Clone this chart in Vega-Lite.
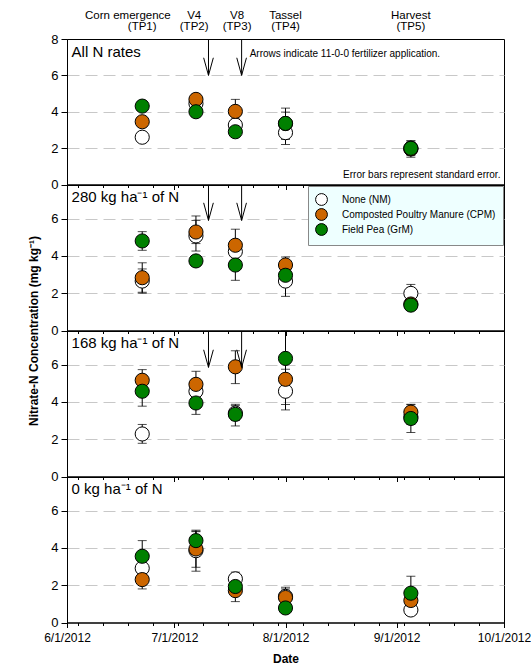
{
"$schema": "https://vega.github.io/schema/vega-lite/v6.json",
"background": "white",
"padding": {"left": 27, "top": 9, "right": 0, "bottom": 3},
"config": {"font": "Liberation Sans", "view": {"stroke": "black", "strokeWidth": 1}, "axis": {"labelFont": "Liberation Sans", "titleFont": "Liberation Sans", "titleColor": "black", "labelColor": "black"}},
"datasets": {
"pts": [
{"panel":1,"trt":"None (NM)","date":"2012-06-22T00:00:00","y":2.6,"lo":2.35,"hi":2.85},
{"panel":1,"trt":"Composted Poultry Manure (CPM)","date":"2012-06-22T00:00:00","y":3.45,"lo":3.2,"hi":3.7},
{"panel":1,"trt":"Field Pea (GrM)","date":"2012-06-22T00:00:00","y":4.31,"lo":4.05,"hi":4.55},
{"panel":1,"trt":"None (NM)","date":"2012-07-07T00:00:00","y":4.45,"lo":4.2,"hi":4.7},
{"panel":1,"trt":"Composted Poultry Manure (CPM)","date":"2012-07-07T00:00:00","y":4.68,"lo":4.4,"hi":4.95},
{"panel":1,"trt":"Field Pea (GrM)","date":"2012-07-07T00:00:00","y":4.0,"lo":3.8,"hi":4.2},
{"panel":1,"trt":"None (NM)","date":"2012-07-18T00:00:00","y":3.27,"lo":2.95,"hi":3.6},
{"panel":1,"trt":"Composted Poultry Manure (CPM)","date":"2012-07-18T00:00:00","y":4.02,"lo":3.4,"hi":4.68},
{"panel":1,"trt":"Field Pea (GrM)","date":"2012-07-18T00:00:00","y":2.9,"lo":2.65,"hi":3.15},
{"panel":1,"trt":"None (NM)","date":"2012-08-01T00:00:00","y":2.85,"lo":2.2,"hi":3.5},
{"panel":1,"trt":"Composted Poultry Manure (CPM)","date":"2012-08-01T00:00:00","y":3.35,"lo":2.75,"hi":3.98},
{"panel":1,"trt":"Field Pea (GrM)","date":"2012-08-01T00:00:00","y":3.36,"lo":2.48,"hi":4.2},
{"panel":1,"trt":"None (NM)","date":"2012-09-05T00:00:00","y":2.0,"lo":1.6,"hi":2.4},
{"panel":1,"trt":"Composted Poultry Manure (CPM)","date":"2012-09-05T00:00:00","y":1.95,"lo":1.5,"hi":2.4},
{"panel":1,"trt":"Field Pea (GrM)","date":"2012-09-05T00:00:00","y":1.99,"lo":1.7,"hi":2.3},
{"panel":2,"trt":"None (NM)","date":"2012-06-22T00:00:00","y":2.65,"lo":2.0,"hi":3.3},
{"panel":2,"trt":"Composted Poultry Manure (CPM)","date":"2012-06-22T00:00:00","y":2.83,"lo":2.05,"hi":3.63},
{"panel":2,"trt":"Field Pea (GrM)","date":"2012-06-22T00:00:00","y":4.8,"lo":4.3,"hi":5.3},
{"panel":2,"trt":"None (NM)","date":"2012-07-07T00:00:00","y":5.07,"lo":4.26,"hi":5.9},
{"panel":2,"trt":"Composted Poultry Manure (CPM)","date":"2012-07-07T00:00:00","y":5.28,"lo":4.66,"hi":6.14},
{"panel":2,"trt":"Field Pea (GrM)","date":"2012-07-07T00:00:00","y":3.73,"lo":3.55,"hi":3.9},
{"panel":2,"trt":"None (NM)","date":"2012-07-18T00:00:00","y":4.23,"lo":3.8,"hi":4.65},
{"panel":2,"trt":"Composted Poultry Manure (CPM)","date":"2012-07-18T00:00:00","y":4.57,"lo":3.7,"hi":5.43},
{"panel":2,"trt":"Field Pea (GrM)","date":"2012-07-18T00:00:00","y":3.51,"lo":2.69,"hi":4.3},
{"panel":2,"trt":"None (NM)","date":"2012-08-01T00:00:00","y":2.65,"lo":1.83,"hi":3.45},
{"panel":2,"trt":"Composted Poultry Manure (CPM)","date":"2012-08-01T00:00:00","y":3.51,"lo":3.1,"hi":3.94},
{"panel":2,"trt":"Field Pea (GrM)","date":"2012-08-01T00:00:00","y":2.96,"lo":2.6,"hi":3.3},
{"panel":2,"trt":"None (NM)","date":"2012-09-05T00:00:00","y":1.99,"lo":1.5,"hi":2.47},
{"panel":2,"trt":"Composted Poultry Manure (CPM)","date":"2012-09-05T00:00:00","y":1.42,"lo":1.25,"hi":1.6},
{"panel":2,"trt":"Field Pea (GrM)","date":"2012-09-05T00:00:00","y":1.36,"lo":1.2,"hi":1.5},
{"panel":3,"trt":"None (NM)","date":"2012-06-22T00:00:00","y":2.28,"lo":1.78,"hi":2.79},
{"panel":3,"trt":"Composted Poultry Manure (CPM)","date":"2012-06-22T00:00:00","y":5.16,"lo":4.6,"hi":5.73},
{"panel":3,"trt":"Field Pea (GrM)","date":"2012-06-22T00:00:00","y":4.57,"lo":3.77,"hi":5.35},
{"panel":3,"trt":"None (NM)","date":"2012-07-07T00:00:00","y":4.57,"lo":4.0,"hi":5.1},
{"panel":3,"trt":"Composted Poultry Manure (CPM)","date":"2012-07-07T00:00:00","y":4.94,"lo":4.3,"hi":5.64},
{"panel":3,"trt":"Field Pea (GrM)","date":"2012-07-07T00:00:00","y":3.94,"lo":3.33,"hi":4.55},
{"panel":3,"trt":"None (NM)","date":"2012-07-18T00:00:00","y":3.4,"lo":3.0,"hi":3.8},
{"panel":3,"trt":"Composted Poultry Manure (CPM)","date":"2012-07-18T00:00:00","y":5.88,"lo":4.98,"hi":6.74},
{"panel":3,"trt":"Field Pea (GrM)","date":"2012-07-18T00:00:00","y":3.33,"lo":2.71,"hi":3.87},
{"panel":3,"trt":"None (NM)","date":"2012-08-01T00:00:00","y":4.57,"lo":3.57,"hi":5.0},
{"panel":3,"trt":"Composted Poultry Manure (CPM)","date":"2012-08-01T00:00:00","y":5.21,"lo":4.7,"hi":5.75},
{"panel":3,"trt":"Field Pea (GrM)","date":"2012-08-01T00:00:00","y":6.33,"lo":3.86,"hi":7.8},
{"panel":3,"trt":"None (NM)","date":"2012-09-05T00:00:00","y":3.2,"lo":2.8,"hi":3.6},
{"panel":3,"trt":"Composted Poultry Manure (CPM)","date":"2012-09-05T00:00:00","y":3.45,"lo":3.0,"hi":3.87},
{"panel":3,"trt":"Field Pea (GrM)","date":"2012-09-05T00:00:00","y":3.11,"lo":2.36,"hi":3.85},
{"panel":4,"trt":"None (NM)","date":"2012-06-22T00:00:00","y":2.91,"lo":2.4,"hi":3.4},
{"panel":4,"trt":"Composted Poultry Manure (CPM)","date":"2012-06-22T00:00:00","y":2.3,"lo":1.8,"hi":2.8},
{"panel":4,"trt":"Field Pea (GrM)","date":"2012-06-22T00:00:00","y":3.55,"lo":2.7,"hi":4.39},
{"panel":4,"trt":"None (NM)","date":"2012-07-07T00:00:00","y":3.85,"lo":2.75,"hi":4.95},
{"panel":4,"trt":"Composted Poultry Manure (CPM)","date":"2012-07-07T00:00:00","y":3.94,"lo":2.96,"hi":4.9},
{"panel":4,"trt":"Field Pea (GrM)","date":"2012-07-07T00:00:00","y":4.39,"lo":3.9,"hi":4.87},
{"panel":4,"trt":"None (NM)","date":"2012-07-18T00:00:00","y":2.34,"lo":2.0,"hi":2.7},
{"panel":4,"trt":"Composted Poultry Manure (CPM)","date":"2012-07-18T00:00:00","y":1.71,"lo":1.12,"hi":2.3},
{"panel":4,"trt":"Field Pea (GrM)","date":"2012-07-18T00:00:00","y":1.93,"lo":1.6,"hi":2.25},
{"panel":4,"trt":"None (NM)","date":"2012-08-01T00:00:00","y":1.4,"lo":1.0,"hi":1.8},
{"panel":4,"trt":"Composted Poultry Manure (CPM)","date":"2012-08-01T00:00:00","y":1.34,"lo":0.8,"hi":1.89},
{"panel":4,"trt":"Field Pea (GrM)","date":"2012-08-01T00:00:00","y":0.78,"lo":0.6,"hi":0.95},
{"panel":4,"trt":"None (NM)","date":"2012-09-05T00:00:00","y":0.67,"lo":0.5,"hi":0.85},
{"panel":4,"trt":"Composted Poultry Manure (CPM)","date":"2012-09-05T00:00:00","y":1.18,"lo":0.75,"hi":1.6},
{"panel":4,"trt":"Field Pea (GrM)","date":"2012-09-05T00:00:00","y":1.57,"lo":0.66,"hi":2.48}
],
"arrows": [{"date":"2012-07-10T12:00:00"},{"date":"2012-07-19T18:00:00"}]
},
"spacing": 0,
"bounds": "flush",
"resolve": {"scale": {"y": "independent", "fill": "independent"}, "legend": {"fill": "independent"}},
"vconcat": [
{
"width": 437, "height": 145.5,
"resolve": {"axis": {"x": "independent"}},
"layer": [
{"data": {"name": "pts"}, "transform": [{"filter": "datum.panel == 1"}],
 "mark": {"type": "point", "shape": "circle", "filled": true, "size": 200, "stroke": "black", "strokeWidth": 1, "opacity": 0},
 "encoding": {
  "x": {"field": "date", "type": "temporal", "scale": {"domain": [{"year":2012,"month":6,"date":1},{"year":2012,"month":10,"date":1}], "nice": false},
        "axis": {"orient": "bottom", "values": [{"year":2012,"month":6,"date":1},{"year":2012,"month":7,"date":1},{"year":2012,"month":8,"date":1},{"year":2012,"month":9,"date":1},{"year":2012,"month":10,"date":1}], "tickSize": 5, "tickColor": "black", "domainColor": "black", "labels": false, "grid": false, "title": null}},
  "y": {"field": "y", "type": "quantitative", "scale": {"domain": [0, 8], "nice": false},
        "axis": {"values": [0,2,4,6,8], "tickCount": 5, "labelOverlap": false, "tickSize": 6, "tickColor": "black", "domainColor": "black", "labelFontSize": 13, "labelPadding": 3, "title": null, "grid": true, "gridColor": "#c8c8c8", "gridDash": [12, 6], "gridOpacity": {"condition": {"test": "datum.value == 0 || datum.value == 8", "value": 0}, "value": 1}}}
 }},
{"data": {"name": "pts"}, "transform": [{"filter": "datum.panel == 1"}],
 "mark": {"type": "errorbar", "color": "black", "ticks": {"size": 9, "color": "black"}},
 "encoding": {
  "x": {"field": "date", "type": "temporal", "scale": {"domain": [{"year":2012,"month":6,"date":1},{"year":2012,"month":10,"date":1}], "nice": false},
        "axis": {"orient": "bottom", "values": [{"year":2012,"month":6,"date":4},{"year":2012,"month":6,"date":11},{"year":2012,"month":6,"date":18},{"year":2012,"month":6,"date":25},{"year":2012,"month":7,"date":2},{"year":2012,"month":7,"date":9},{"year":2012,"month":7,"date":16},{"year":2012,"month":7,"date":23},{"year":2012,"month":7,"date":30},{"year":2012,"month":8,"date":6},{"year":2012,"month":8,"date":13},{"year":2012,"month":8,"date":20},{"year":2012,"month":8,"date":27},{"year":2012,"month":9,"date":3},{"year":2012,"month":9,"date":10},{"year":2012,"month":9,"date":17},{"year":2012,"month":9,"date":24}], "tickSize": 3, "tickColor": "black", "labels": false, "domain": false, "grid": false, "title": null}},
  "y": {"field": "lo", "type": "quantitative", "title": null, "scale": {"domain": [0, 8], "nice": false}},
  "y2": {"field": "hi"}
 }},
{"data": {"name": "pts"}, "transform": [{"filter": "datum.panel == 1"}],
 "mark": {"type": "point", "shape": "circle", "filled": true, "size": 200, "stroke": "black", "strokeWidth": 1, "opacity": 1},
 "encoding": {
  "x": {"field": "date", "type": "temporal", "axis": null},
  "y": {"field": "y", "type": "quantitative", "title": null},
  "fill": {"field": "trt", "type": "nominal", "scale": {"domain": ["None (NM)","Composted Poultry Manure (CPM)","Field Pea (GrM)"], "range": ["#ffffff","#cc6600","#008000"]}, "legend": null}
 }},
{"data": {"name": "arrows"}, "mark": {"type": "rule", "color": "black", "strokeWidth": 1},
 "encoding": {"x": {"field": "date", "type": "temporal", "axis": null}, "y": {"datum": 8, "title": null}, "y2": {"datum": 6}}},
{"data": {"name": "arrows"}, "mark": {"type": "point", "shape": "M-0.55,-2L0,0L0.55,-2", "size": 310, "filled": false, "stroke": "black", "strokeWidth": 1, "opacity": 1},
 "encoding": {"x": {"field": "date", "type": "temporal", "axis": null}, "y": {"datum": 6, "title": null}}},
{"data": {"values": [{"date":"2012-06-02T00:00:00","y":7.3,"text":"All N rates"}]},
 "mark": {"type": "text", "align": "left", "baseline": "middle", "fontSize": 15, "color": "black", "dx": 1},
 "encoding": {"x": {"field": "date", "type": "temporal", "axis": null}, "y": {"field": "y", "type": "quantitative", "title": null}, "text": {"field": "text"}}},
{"data": {"values": [{"date":"2012-07-22T00:00:00","y":7.19,"text":"Arrows indicate 11-0-0 fertilizer application."}]},
 "mark": {"type": "text", "align": "left", "baseline": "middle", "fontSize": 10, "color": "black"},
 "encoding": {"x": {"field": "date", "type": "temporal", "axis": null}, "y": {"field": "y", "type": "quantitative", "title": null}, "text": {"field": "text"}}},
{"data": {"values": [{"date":"2012-09-30T00:00:00","y":0.52,"text":"Error bars represent standard error."}]},
 "mark": {"type": "text", "align": "right", "baseline": "middle", "fontSize": 10, "color": "black"},
 "encoding": {"x": {"field": "date", "type": "temporal", "axis": null}, "y": {"field": "y", "type": "quantitative", "title": null}, "text": {"field": "text"}}},
{"data": {"values": [
  {"date":"2012-06-18T00:00:00","y":9.26,"text":"Corn emergence"},
  {"date":"2012-06-22T00:00:00","y":8.65,"text":"(TP1)"},
  {"date":"2012-07-06T12:00:00","y":9.26,"text":"V4"},
  {"date":"2012-07-06T12:00:00","y":8.65,"text":"(TP2)"},
  {"date":"2012-07-18T12:00:00","y":9.26,"text":"V8"},
  {"date":"2012-07-18T12:00:00","y":8.65,"text":"(TP3)"},
  {"date":"2012-08-01T00:00:00","y":9.26,"text":"Tassel"},
  {"date":"2012-08-01T00:00:00","y":8.65,"text":"(TP4)"},
  {"date":"2012-09-05T00:00:00","y":9.26,"text":"Harvest"},
  {"date":"2012-09-05T00:00:00","y":8.65,"text":"(TP5)"}]},
 "mark": {"type": "text", "align": "center", "baseline": "middle", "fontSize": 11.5, "color": "black", "clip": false},
 "encoding": {"x": {"field": "date", "type": "temporal", "axis": null}, "y": {"field": "y", "type": "quantitative", "title": null}, "text": {"field": "text"}}}
]
},
{
"width": 437, "height": 145.5,
"resolve": {"axis": {"x": "independent"}},
"layer": [
{"data": {"name": "pts"}, "transform": [{"filter": "datum.panel == 2"}],
 "mark": {"type": "point", "shape": "circle", "filled": true, "size": 200, "stroke": "black", "strokeWidth": 1, "opacity": 0},
 "encoding": {
  "x": {"field": "date", "type": "temporal", "scale": {"domain": [{"year":2012,"month":6,"date":1},{"year":2012,"month":10,"date":1}], "nice": false},
        "axis": {"orient": "bottom", "values": [{"year":2012,"month":6,"date":1},{"year":2012,"month":7,"date":1},{"year":2012,"month":8,"date":1},{"year":2012,"month":9,"date":1},{"year":2012,"month":10,"date":1}], "tickSize": 5, "tickColor": "black", "domainColor": "black", "labels": false, "grid": false, "title": null}},
  "y": {"field": "y", "type": "quantitative", "title": "Nitrate-N Concentration (mg kg⁻¹)", "scale": {"domain": [0, 7.8], "nice": false},
        "axis": {"values": [0,2,4,6], "tickSize": 6, "tickColor": "black", "domainColor": "black", "labelFontSize": 13, "labelPadding": 3, "titleFontSize": 12, "titleFontWeight": "bold", "titleY": 145.5, "titlePadding": 10, "grid": true, "gridColor": "#c8c8c8", "gridDash": [12, 6], "gridOpacity": {"condition": {"test": "datum.value == 0", "value": 0}, "value": 1}}}
 }},
{"data": {"name": "pts"}, "transform": [{"filter": "datum.panel == 2"}],
 "mark": {"type": "errorbar", "color": "black", "ticks": {"size": 9, "color": "black"}},
 "encoding": {
  "x": {"field": "date", "type": "temporal", "scale": {"domain": [{"year":2012,"month":6,"date":1},{"year":2012,"month":10,"date":1}], "nice": false},
        "axis": {"orient": "bottom", "values": [{"year":2012,"month":6,"date":4},{"year":2012,"month":6,"date":11},{"year":2012,"month":6,"date":18},{"year":2012,"month":6,"date":25},{"year":2012,"month":7,"date":2},{"year":2012,"month":7,"date":9},{"year":2012,"month":7,"date":16},{"year":2012,"month":7,"date":23},{"year":2012,"month":7,"date":30},{"year":2012,"month":8,"date":6},{"year":2012,"month":8,"date":13},{"year":2012,"month":8,"date":20},{"year":2012,"month":8,"date":27},{"year":2012,"month":9,"date":3},{"year":2012,"month":9,"date":10},{"year":2012,"month":9,"date":17},{"year":2012,"month":9,"date":24}], "tickSize": 3, "tickColor": "black", "labels": false, "domain": false, "grid": false, "title": null}},
  "y": {"field": "lo", "type": "quantitative", "title": "Nitrate-N Concentration (mg kg⁻¹)", "scale": {"domain": [0, 7.8], "nice": false}},
  "y2": {"field": "hi"}
 }},
{"data": {"name": "pts"}, "transform": [{"filter": "datum.panel == 2"}],
 "mark": {"type": "point", "shape": "circle", "filled": true, "size": 200, "stroke": "black", "strokeWidth": 1, "opacity": 1},
 "encoding": {
  "x": {"field": "date", "type": "temporal", "axis": null},
  "y": {"field": "y", "type": "quantitative", "title": "Nitrate-N Concentration (mg kg⁻¹)"},
  "fill": {"field": "trt", "type": "nominal", "scale": {"domain": ["None (NM)","Composted Poultry Manure (CPM)","Field Pea (GrM)"], "range": ["#ffffff","#cc6600","#008000"]},
           "legend": {"orient": "top-right", "offset": 1, "title": null, "fillColor": "#eeffff", "strokeColor": "#888888", "padding": 7, "symbolType": "circle", "symbolSize": 140, "symbolStrokeColor": "black", "symbolStrokeWidth": 1, "labelFontSize": 10, "labelFont": "Liberation Sans", "labelColor": "black", "labelOffset": 14, "rowPadding": -6, "labelLimit": 300}}
 }},
{"data": {"name": "arrows"}, "mark": {"type": "rule", "color": "black", "strokeWidth": 1},
 "encoding": {"x": {"field": "date", "type": "temporal", "axis": null}, "y": {"datum": 7.8, "title": "Nitrate-N Concentration (mg kg⁻¹)"}, "y2": {"datum": 5.9}}},
{"data": {"name": "arrows"}, "mark": {"type": "point", "shape": "M-0.55,-2L0,0L0.55,-2", "size": 310, "filled": false, "stroke": "black", "strokeWidth": 1, "opacity": 1},
 "encoding": {"x": {"field": "date", "type": "temporal", "axis": null}, "y": {"datum": 5.9, "title": "Nitrate-N Concentration (mg kg⁻¹)"}}},
{"data": {"values": [{"date":"2012-06-02T00:00:00","y":7.13,"text":"280 kg ha⁻¹ of N"}]},
 "mark": {"type": "text", "align": "left", "baseline": "middle", "fontSize": 15, "color": "black", "dx": 1},
 "encoding": {"x": {"field": "date", "type": "temporal", "axis": null}, "y": {"field": "y", "type": "quantitative", "title": "Nitrate-N Concentration (mg kg⁻¹)"}, "text": {"field": "text"}}}
]
},
{
"width": 437, "height": 145.5,
"resolve": {"axis": {"x": "independent"}},
"layer": [
{"data": {"name": "pts"}, "transform": [{"filter": "datum.panel == 3"}],
 "mark": {"type": "point", "shape": "circle", "filled": true, "size": 200, "stroke": "black", "strokeWidth": 1, "opacity": 0},
 "encoding": {
  "x": {"field": "date", "type": "temporal", "scale": {"domain": [{"year":2012,"month":6,"date":1},{"year":2012,"month":10,"date":1}], "nice": false},
        "axis": {"orient": "bottom", "values": [{"year":2012,"month":6,"date":1},{"year":2012,"month":7,"date":1},{"year":2012,"month":8,"date":1},{"year":2012,"month":9,"date":1},{"year":2012,"month":10,"date":1}], "tickSize": 5, "tickColor": "black", "domainColor": "black", "labels": false, "grid": false, "title": null}},
  "y": {"field": "y", "type": "quantitative", "scale": {"domain": [0, 7.8], "nice": false},
        "axis": {"values": [0,2,4,6], "tickSize": 6, "tickColor": "black", "domainColor": "black", "labelFontSize": 13, "labelPadding": 3, "title": null, "grid": true, "gridColor": "#c8c8c8", "gridDash": [12, 6], "gridOpacity": {"condition": {"test": "datum.value == 0", "value": 0}, "value": 1}}}
 }},
{"data": {"name": "pts"}, "transform": [{"filter": "datum.panel == 3"}],
 "mark": {"type": "errorbar", "color": "black", "ticks": {"size": 9, "color": "black"}},
 "encoding": {
  "x": {"field": "date", "type": "temporal", "scale": {"domain": [{"year":2012,"month":6,"date":1},{"year":2012,"month":10,"date":1}], "nice": false},
        "axis": {"orient": "bottom", "values": [{"year":2012,"month":6,"date":4},{"year":2012,"month":6,"date":11},{"year":2012,"month":6,"date":18},{"year":2012,"month":6,"date":25},{"year":2012,"month":7,"date":2},{"year":2012,"month":7,"date":9},{"year":2012,"month":7,"date":16},{"year":2012,"month":7,"date":23},{"year":2012,"month":7,"date":30},{"year":2012,"month":8,"date":6},{"year":2012,"month":8,"date":13},{"year":2012,"month":8,"date":20},{"year":2012,"month":8,"date":27},{"year":2012,"month":9,"date":3},{"year":2012,"month":9,"date":10},{"year":2012,"month":9,"date":17},{"year":2012,"month":9,"date":24}], "tickSize": 3, "tickColor": "black", "labels": false, "domain": false, "grid": false, "title": null}},
  "y": {"field": "lo", "type": "quantitative", "title": null, "scale": {"domain": [0, 7.8], "nice": false}},
  "y2": {"field": "hi"}
 }},
{"data": {"name": "pts"}, "transform": [{"filter": "datum.panel == 3"}],
 "mark": {"type": "point", "shape": "circle", "filled": true, "size": 200, "stroke": "black", "strokeWidth": 1, "opacity": 1},
 "encoding": {
  "x": {"field": "date", "type": "temporal", "axis": null},
  "y": {"field": "y", "type": "quantitative", "title": null},
  "fill": {"field": "trt", "type": "nominal", "scale": {"domain": ["None (NM)","Composted Poultry Manure (CPM)","Field Pea (GrM)"], "range": ["#ffffff","#cc6600","#008000"]}, "legend": null}
 }},
{"data": {"name": "arrows"}, "mark": {"type": "rule", "color": "black", "strokeWidth": 1},
 "encoding": {"x": {"field": "date", "type": "temporal", "axis": null}, "y": {"datum": 7.8, "title": null}, "y2": {"datum": 5.85}}},
{"data": {"name": "arrows"}, "mark": {"type": "point", "shape": "M-0.55,-2L0,0L0.55,-2", "size": 310, "filled": false, "stroke": "black", "strokeWidth": 1, "opacity": 1},
 "encoding": {"x": {"field": "date", "type": "temporal", "axis": null}, "y": {"datum": 5.85, "title": null}}},
{"data": {"values": [{"date":"2012-06-02T00:00:00","y":7.13,"text":"168 kg ha⁻¹ of N"}]},
 "mark": {"type": "text", "align": "left", "baseline": "middle", "fontSize": 15, "color": "black", "dx": 1},
 "encoding": {"x": {"field": "date", "type": "temporal", "axis": null}, "y": {"field": "y", "type": "quantitative", "title": null}, "text": {"field": "text"}}}
]
},
{
"width": 437, "height": 145.5,
"resolve": {"axis": {"x": "independent"}},
"layer": [
{"data": {"name": "pts"}, "transform": [{"filter": "datum.panel == 4"}],
 "mark": {"type": "point", "shape": "circle", "filled": true, "size": 200, "stroke": "black", "strokeWidth": 1, "opacity": 0},
 "encoding": {
  "x": {"field": "date", "type": "temporal", "scale": {"domain": [{"year":2012,"month":6,"date":1},{"year":2012,"month":10,"date":1}], "nice": false},
        "axis": {"orient": "bottom", "values": [{"year":2012,"month":6,"date":1},{"year":2012,"month":7,"date":1},{"year":2012,"month":8,"date":1},{"year":2012,"month":9,"date":1},{"year":2012,"month":10,"date":1}], "tickSize": 5, "tickColor": "black", "domainColor": "black", "labels": true, "format": "%-m/%-d/%Y", "labelFontSize": 12, "labelFlush": false, "labelOverlap": false, "labelPadding": 5, "grid": false, "title": "Date", "titleFontSize": 12, "titleFontWeight": "bold", "titlePadding": 10}},
  "y": {"field": "y", "type": "quantitative", "scale": {"domain": [0, 7.8], "nice": false},
        "axis": {"values": [0,2,4,6], "tickSize": 6, "tickColor": "black", "domainColor": "black", "labelFontSize": 13, "labelPadding": 3, "title": null, "grid": true, "gridColor": "#c8c8c8", "gridDash": [12, 6], "gridOpacity": {"condition": {"test": "datum.value == 0", "value": 0}, "value": 1}}}
 }},
{"data": {"name": "pts"}, "transform": [{"filter": "datum.panel == 4"}],
 "mark": {"type": "errorbar", "color": "black", "ticks": {"size": 9, "color": "black"}},
 "encoding": {
  "x": {"field": "date", "type": "temporal", "scale": {"domain": [{"year":2012,"month":6,"date":1},{"year":2012,"month":10,"date":1}], "nice": false},
        "axis": {"orient": "bottom", "values": [{"year":2012,"month":6,"date":4},{"year":2012,"month":6,"date":11},{"year":2012,"month":6,"date":18},{"year":2012,"month":6,"date":25},{"year":2012,"month":7,"date":2},{"year":2012,"month":7,"date":9},{"year":2012,"month":7,"date":16},{"year":2012,"month":7,"date":23},{"year":2012,"month":7,"date":30},{"year":2012,"month":8,"date":6},{"year":2012,"month":8,"date":13},{"year":2012,"month":8,"date":20},{"year":2012,"month":8,"date":27},{"year":2012,"month":9,"date":3},{"year":2012,"month":9,"date":10},{"year":2012,"month":9,"date":17},{"year":2012,"month":9,"date":24}], "tickSize": 3, "tickColor": "black", "labels": false, "domain": false, "grid": false, "title": null}},
  "y": {"field": "lo", "type": "quantitative", "title": null, "scale": {"domain": [0, 7.8], "nice": false}},
  "y2": {"field": "hi"}
 }},
{"data": {"name": "pts"}, "transform": [{"filter": "datum.panel == 4"}],
 "mark": {"type": "point", "shape": "circle", "filled": true, "size": 200, "stroke": "black", "strokeWidth": 1, "opacity": 1},
 "encoding": {
  "x": {"field": "date", "type": "temporal", "axis": null},
  "y": {"field": "y", "type": "quantitative", "title": null},
  "fill": {"field": "trt", "type": "nominal", "scale": {"domain": ["None (NM)","Composted Poultry Manure (CPM)","Field Pea (GrM)"], "range": ["#ffffff","#cc6600","#008000"]}, "legend": null}
 }},
{"data": {"values": [{"date":"2012-06-02T00:00:00","y":7.13,"text":"0 kg ha⁻¹ of N"}]},
 "mark": {"type": "text", "align": "left", "baseline": "middle", "fontSize": 15, "color": "black", "dx": 1},
 "encoding": {"x": {"field": "date", "type": "temporal", "axis": null}, "y": {"field": "y", "type": "quantitative", "title": null}, "text": {"field": "text"}}}
]
}
]
}
